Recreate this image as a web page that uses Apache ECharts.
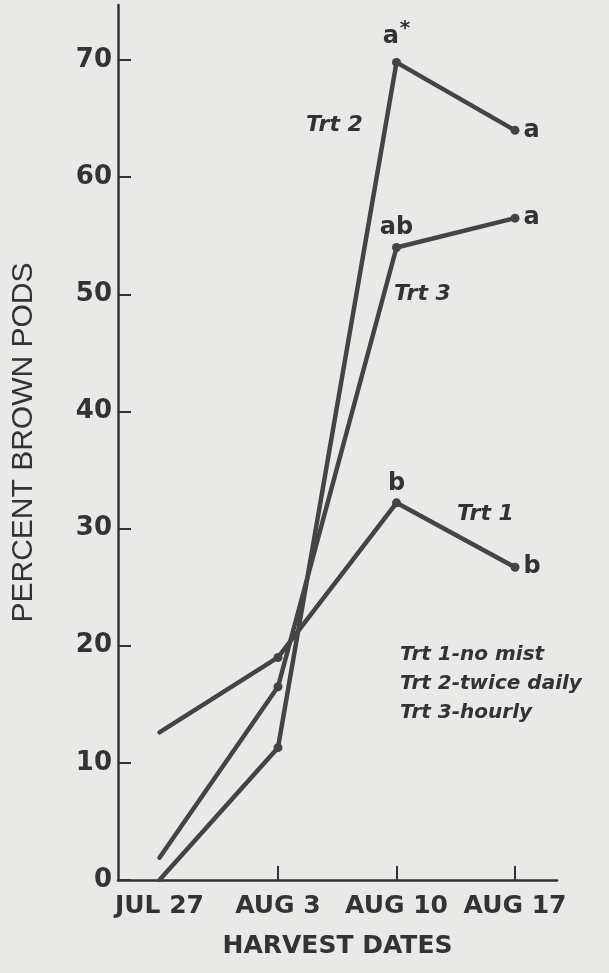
<!DOCTYPE html>
<html>
<head>
<meta charset="utf-8">
<script src="https://cdn.jsdelivr.net/npm/echarts@6/dist/echarts.min.js"></script>
<style>
	html, body { margin: 0; padding: 0; background: #e9e9e7; }
	#chart { width: 609px; height: 973px; }
</style>
</head>
<body>
<div id="chart"></div>
<script>
// harvest dates, as days after Jul 27
var dates = ['JUL 27', 'AUG 3', 'AUG 10', 'AUG 17'];
var days = [0, 7, 14, 21];
var yTicks = [0, 10, 20, 30, 40, 50, 60, 70];

// percent brown pods per treatment
var trt1 = [12.6, 19.0, 32.2, 26.7];
var trt2 = [0, 11.3, 69.8, 64.0];
var trt3 = [1.9, 16.5, 54.0, 56.5];

// mean separation letters
var trt1Letters = ['', '', 'b', 'b'];
var trt2Letters = ['', '', 'a*', 'a'];
var trt3Letters = ['', '', 'ab', 'a'];

var ink = '#333';
var font = 'DejaVu Sans';

function makeSeries(name, values, letters) {
	var data = values.map(function (v, i) {
		var item = { value: [days[i], v] };
		if (letters[i]) {
			item.label = {
				show: true,
				position: i === 3 ? 'right' : 'top',
				distance: i === 3 ? 4 : 3,
				formatter: letters[i].replace('*', '{s|*}'),
				color: ink,
				fontFamily: font,
				fontWeight: 'bold',
				fontSize: 24,
				rich: { s: { fontSize: 20, fontWeight: 'bold', verticalAlign: 'top', padding: [0, 0, 16, 1], color: ink } }
			};
		}
		return item;
	});
	return {
		name: name,
		type: 'line',
		data: data,
		symbol: 'circle',
		symbolSize: function (val, params) { return params.dataIndex === 0 ? 0 : 9; },
		lineStyle: { color: '#444', width: 4.5, cap: 'round', join: 'round' },
		itemStyle: { color: '#444' },
		emphasis: { disabled: true },
		z: 3
	};
}

var chart = echarts.init(document.getElementById('chart'), null, { renderer: 'canvas' });

chart.setOption({
	backgroundColor: '#e9e9e7',
	animation: false,
	grid: { left: 118, right: 52, top: 5, bottom: 93 },
	xAxis: {
		type: 'value',
		min: -2.45,
		max: 23.48,
		splitLine: { show: false },
		axisLine: { onZero: false, lineStyle: { color: '#333', width: 2.5 } },
		axisTick: { inside: true, length: 14, customValues: [7, 14, 21], lineStyle: { color: '#333', width: 2 } },
		axisLabel: {
			customValues: days,
			formatter: function (v) { return dates[days.indexOf(v)]; },
			color: ink, fontFamily: font, fontWeight: 'bold', fontSize: 25, margin: 14
		},
		name: 'HARVEST DATES',
		nameLocation: 'middle',
		nameGap: 54,
		nameTextStyle: { color: ink, fontFamily: font, fontWeight: 'bold', fontSize: 25 }
	},
	yAxis: {
		type: 'value',
		min: 0,
		max: 74.7,
		splitLine: { show: false },
		axisLine: { show: true, onZero: false, lineStyle: { color: '#333', width: 2.5 } },
		axisTick: { show: true, inside: true, length: 13, customValues: yTicks, lineStyle: { color: '#333', width: 2 } },
		axisLabel: { customValues: yTicks, color: ink, fontFamily: font, fontWeight: 'bold', fontSize: 26, margin: 6 },
		name: 'PERCENT BROWN PODS',
		nameLocation: 'middle',
		nameGap: 79,
		nameTextStyle: { color: ink, fontFamily: 'Liberation Sans', fontSize: 30 }
	},
	series: [
		makeSeries('Trt 1', trt1, trt1Letters),
		makeSeries('Trt 2', trt2, trt2Letters),
		makeSeries('Trt 3', trt3, trt3Letters)
	],
	graphic: [
		{ type: 'text', left: 306, top: 114, style: { text: 'Trt 2', fill: ink, font: 'italic bold 22px "DejaVu Sans"' } },
		{ type: 'text', left: 394, top: 283, style: { text: 'Trt 3', fill: ink, font: 'italic bold 22px "DejaVu Sans"' } },
		{ type: 'text', left: 457, top: 503, style: { text: 'Trt 1', fill: ink, font: 'italic bold 22px "DejaVu Sans"' } },
		{ type: 'text', left: 400, top: 640, style: {
			text: 'Trt 1-no mist\nTrt 2-twice daily\nTrt 3-hourly',
			fill: ink, font: 'italic bold 20px "DejaVu Sans"', lineHeight: 29
		} }
	]
});
</script>
</body>
</html>
